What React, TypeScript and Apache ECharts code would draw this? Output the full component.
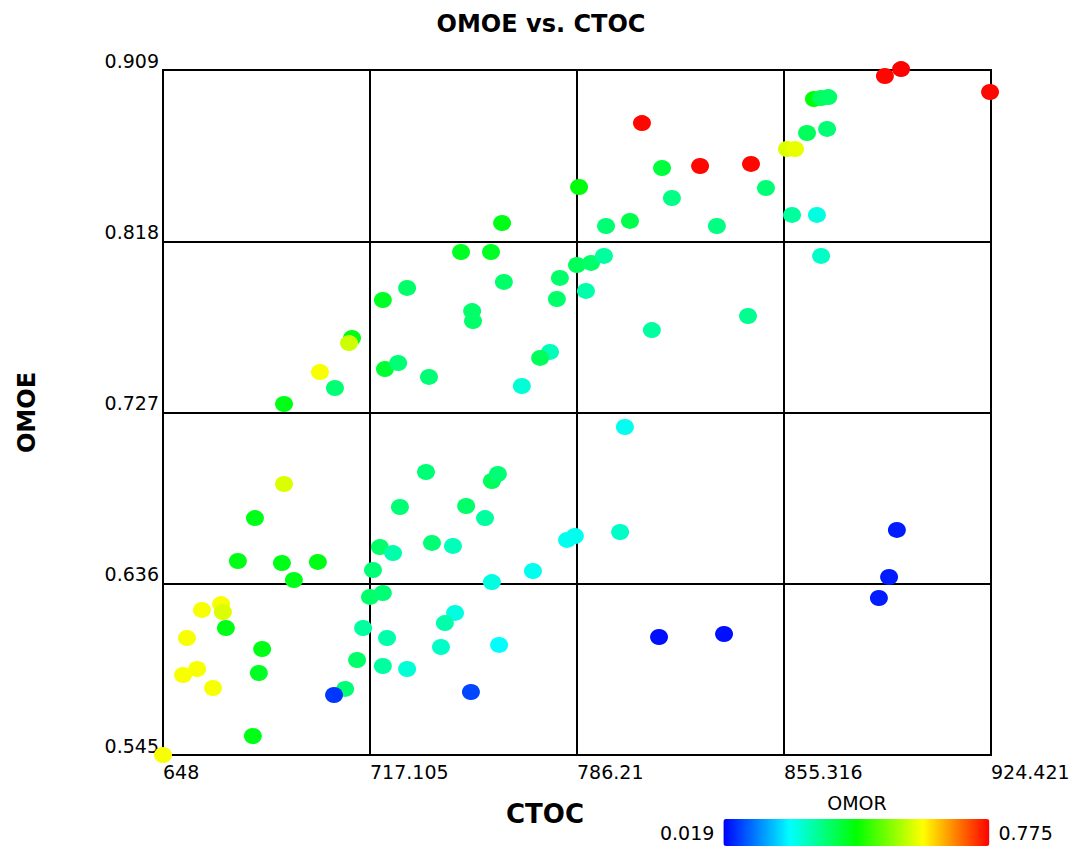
import React, { useEffect, useRef } from "react";
import * as echarts from "echarts";

const title = "OMOE vs. CTOC";
const xName = "CTOC";
const yName = "OMOE";
const colorName = "OMOR";

const xTicks = [648, 717.105, 786.21, 855.316, 924.421];
const xTickLabels = ["648", "717.105", "786.21", "855.316", "924.421"];
const yTicks = [0.545, 0.636, 0.727, 0.818, 0.909];
const yTickLabels = ["0.545", "0.636", "0.727", "0.818", "0.909"];
const omorMin = 0.019;
const omorMax = 0.775;

const ctoc = [
  889.0, 894.4, 924.1, 807.9, 827.3, 844.3, 856.3, 859.0,
  865.3, 867.7, 870.1, 863.0, 869.7, 858.0, 866.3, 867.7,
  814.6, 849.3, 817.9, 786.9, 761.2, 795.9, 803.9, 832.9, 747.5, 757.5,
  761.8, 780.5, 779.5, 786.2, 790.9, 795.2, 789.2, 751.2, 751.5, 777.2, 773.9, 767.8, 811.2, 843.3,
  729.5, 721.4, 711.1, 710.1, 700.4, 705.4, 688.4, 722.1, 726.5, 736.8,
  802.2, 757.8, 759.8, 749.2, 755.5, 782.9, 785.5, 800.6, 771.5, 757.8, 760.2, 750.8, 813.6, 835.3,
  893.0, 890.4, 887.0,
  688.4, 678.7, 673.0, 687.7, 699.7, 691.7, 735.8, 727.1, 720.4, 724.8, 737.8, 744.8, 718.1, 717.1, 721.4, 745.5, 742.1,
  661.0, 667.4, 668.0, 669.0, 656.0, 681.1, 659.4, 654.7, 664.7, 680.0, 678.0, 648.0,
  708.8, 705.1, 712.8, 714.8, 722.8, 721.4, 729.5, 740.8,
];

const omoe = [
  0.9058, 0.9095, 0.8973, 0.8808, 0.8580, 0.8591, 0.8670, 0.8670,
  0.8936, 0.8941, 0.8946, 0.8755, 0.8777, 0.8320, 0.8320, 0.8102,
  0.8569, 0.8463, 0.8410, 0.8468, 0.8277, 0.8261, 0.8288, 0.8261, 0.8123, 0.8123,
  0.7964, 0.7985, 0.7873, 0.8054, 0.8065, 0.8102, 0.7916, 0.7809, 0.7756, 0.7592, 0.7560, 0.7411, 0.7708, 0.7783,
  0.7932, 0.7868, 0.7666, 0.7639, 0.7485, 0.7400, 0.7315, 0.7501, 0.7533, 0.7459,
  0.7193, 0.6906, 0.6943, 0.6773, 0.6709, 0.6593, 0.6614, 0.6635, 0.6428, 0.6369, 0.6035, 0.5785, 0.6077, 0.6093,
  0.6646, 0.6396, 0.6284,
  0.6890, 0.6709, 0.6481, 0.6470, 0.6476, 0.6380, 0.6954, 0.6768, 0.6555, 0.6523, 0.6577, 0.6561, 0.6433, 0.6290, 0.6311, 0.6205, 0.6151,
  0.6221, 0.6252, 0.6210, 0.6125, 0.6072, 0.6013, 0.5907, 0.5875, 0.5806, 0.5886, 0.5551, 0.5450,
  0.5801, 0.5769, 0.5955, 0.6125, 0.6072, 0.5923, 0.5907, 0.6024,
];

const omor = [
  0.77, 0.775, 0.77, 0.77, 0.77, 0.77, 0.56, 0.57,
  0.39, 0.33, 0.32, 0.33, 0.31, 0.28, 0.23, 0.25,
  0.35, 0.31, 0.30, 0.39, 0.38, 0.31, 0.34, 0.30, 0.37, 0.37,
  0.32, 0.32, 0.32, 0.33, 0.32, 0.28, 0.27, 0.32, 0.32, 0.26, 0.33, 0.24, 0.28, 0.29,
  0.32, 0.37, 0.38, 0.55, 0.58, 0.31, 0.38, 0.36, 0.31, 0.31,
  0.22, 0.33, 0.31, 0.32, 0.28, 0.22, 0.22, 0.25, 0.22, 0.23, 0.21, 0.07, 0.03, 0.03,
  0.04, 0.04, 0.04,
  0.56, 0.38, 0.38, 0.38, 0.38, 0.38, 0.31, 0.31, 0.32, 0.27, 0.31, 0.26, 0.31, 0.32, 0.31, 0.23, 0.27,
  0.58, 0.58, 0.56, 0.38, 0.58, 0.38, 0.58, 0.58, 0.58, 0.37, 0.38, 0.58,
  0.31, 0.06, 0.32, 0.28, 0.27, 0.28, 0.24, 0.25,
];

const FONT = "DejaVu Sans";

function labelFor(v: number, ticks: number[], labels: string[]) {
  let best = 0;
  for (let i = 1; i < ticks.length; i++) {
    if (Math.abs(ticks[i] - v) < Math.abs(ticks[best] - v)) best = i;
  }
  return labels[best];
}

export default function App() {
  const ref = useRef<HTMLDivElement>(null);
  useEffect(() => {
    if (!ref.current) return;
    const chart = echarts.init(ref.current, null, { renderer: "svg" });
    const data = ctoc.map((x, i) => [x, omoe[i], omor[i]]);
    chart.setOption({
      animation: false,
      backgroundColor: "#fff",
      title: {
        text: title,
        left: "center",
        top: 7,
        textStyle: { fontFamily: FONT, fontWeight: "bold", fontSize: 24, color: "#000" },
      },
      grid: {
        left: 163,
        top: 70,
        width: 828,
        height: 685,
        show: true,
        borderColor: "#000",
        borderWidth: 2,
        backgroundColor: "#fff",
      },
      xAxis: {
        type: "value",
        min: xTicks[0],
        max: xTicks[xTicks.length - 1],
        name: xName,
        nameLocation: "middle",
        nameGap: 46,
        nameTextStyle: {
          fontFamily: FONT,
          fontWeight: "bold",
          fontSize: 26,
          color: "#000",
          padding: [0, 64, 0, 0],
        },
        axisLine: { show: false },
        axisTick: { show: false, customValues: xTicks },
        axisLabel: {
          customValues: xTicks,
          formatter: (v: number) => labelFor(v, xTicks, xTickLabels),
          align: "left",
          margin: 7,
          fontFamily: FONT,
          fontSize: 19,
          color: "#000",
          showMinLabel: true,
          showMaxLabel: true,
          hideOverlap: false,
        },
        splitLine: { show: true, lineStyle: { color: "#000", width: 2 } },
      },
      yAxis: {
        type: "value",
        min: yTicks[0],
        max: yTicks[yTicks.length - 1],
        name: yName,
        nameLocation: "middle",
        nameRotate: 90,
        nameGap: 124,
        nameTextStyle: { fontFamily: FONT, fontWeight: "bold", fontSize: 24, color: "#000" },
        axisLine: { show: false },
        axisTick: { show: false, customValues: yTicks },
        axisLabel: {
          customValues: yTicks,
          formatter: (v: number) => labelFor(v, yTicks, yTickLabels),
          verticalAlign: "bottom",
          margin: 4,
          fontFamily: FONT,
          fontSize: 19,
          color: "#000",
          showMinLabel: true,
          showMaxLabel: true,
          hideOverlap: false,
        },
        splitLine: { show: true, lineStyle: { color: "#000", width: 2 } },
      },
      visualMap: {
        type: "continuous",
        dimension: 2,
        min: omorMin,
        max: omorMax,
        orient: "horizontal",
        left: 645,
        top: 804,
        itemWidth: 27,
        itemHeight: 266,
        calculable: false,
        hoverLink: false,
        text: ["0.775", "0.019"],
        textGap: 9,
        textStyle: { fontFamily: FONT, fontSize: 19, color: "#000" },
        inRange: { color: ["#0000ff", "#00ffff", "#00ff00", "#ffff00", "#ff0000"] },
      },
      graphic: [
        {
          type: "text",
          x: 857,
          y: 803,
          style: {
            text: colorName,
            fill: "#000",
            fontFamily: FONT,
            fontSize: 19,
            align: "center",
            verticalAlign: "middle",
          },
        },
      ],
      series: [
        {
          type: "scatter",
          data,
          symbol: "circle",
          symbolSize: [18, 16],
          clip: false,
          itemStyle: { opacity: 1 },
        },
      ],
    });
    return () => chart.dispose();
  }, []);
  return (
    <div
      ref={ref}
      style={{ position: "absolute", left: 0, top: 0, width: 1082, height: 846 }}
    />
  );
}
